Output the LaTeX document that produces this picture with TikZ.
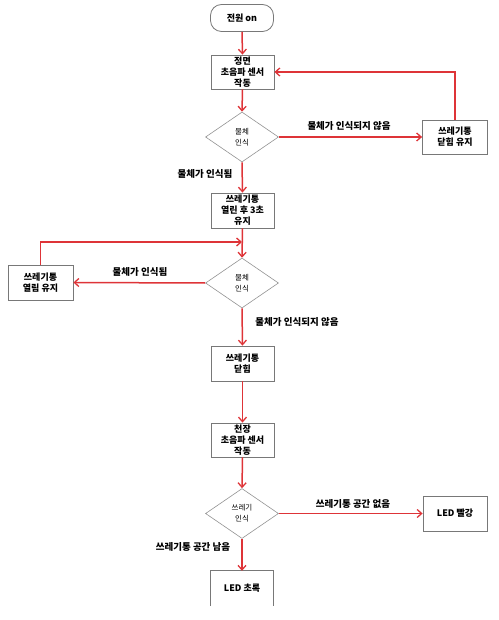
\documentclass[tikz,border=0pt]{standalone}
\usepackage{fontspec}
\setmainfont{Noto Sans CJK KR}
\usetikzlibrary{shapes.geometric,arrows.meta}
\definecolor{flowred}{RGB}{222,52,56}
\definecolor{boxgray}{RGB}{120,120,120}
\tikzset{
  x=1pt,y=-1pt,
  stepbox/.style={draw=boxgray,line width=0.8pt,fill=white,rectangle,align=center,inner sep=1pt,font=\fontsize{9}{11}\selectfont\bfseries},
  startbox/.style={stepbox,rounded corners=11pt},
  decide/.style={draw=boxgray!80,line width=0.6pt,fill=white,diamond,inner sep=0pt,minimum width=73pt,minimum height=50pt,align=center,font=\fontsize{7.5}{11}\selectfont},
  flow/.style={draw=flowred,line width=1.5pt,-{Straight Barb[length=4.5pt,width=8pt,line width=1.3pt]}},
  lbl/.style={font=\fontsize{9.5}{11}\selectfont\bfseries,inner sep=0pt}
}
\begin{document}
\begin{tikzpicture}
\useasboundingbox (0,0) rectangle (498,620);
\node[startbox,minimum width=63pt,minimum height=27pt] (start) at (242,18) {전원 on};
\node[stepbox,minimum width=63pt,minimum height=34pt] (b1) at (242.5,72) {정면\\초음파 센서\\작동};
\node[decide] (d1) at (242,137) {물체\\인식};
\node[stepbox,minimum width=65pt,minimum height=34pt] (r1) at (455,137) {쓰레기통\\닫힘 유지};
\node[stepbox,minimum width=63pt,minimum height=35pt] (b2) at (242.5,210.5) {쓰레기통\\열린 후 3초\\유지};
\node[stepbox,minimum width=65pt,minimum height=35pt] (l1) at (40.5,282.5) {쓰레기통\\열림 유지};
\node[decide] (d2) at (242,283) {물체\\인식};
\node[stepbox,minimum width=63pt,minimum height=35pt] (b3) at (242.5,363.5) {쓰레기통\\닫힘};
\node[stepbox,minimum width=63pt,minimum height=34pt] (b4) at (242.5,440) {천장\\초음파 센서\\작동};
\node[decide] (d3) at (242,513.5) {쓰레기\\인식};
\node[stepbox,minimum width=64pt,minimum height=35pt] (r2) at (455,513.5) {LED 빨강};
\node[inner sep=0pt,minimum width=62pt,minimum height=35pt,font=\fontsize{9}{11}\selectfont\bfseries] (g) at (242,588.5) {LED 초록};
\draw[draw=boxgray,line width=0.8pt] (g.south west) -- (g.north west) -- (g.north east) -- (g.south east);
\coordinate (m) at (242,242);
% labels
\node[lbl] (t1) at (349,126) {물체가 인식되지 않음};
\node[lbl] (t2) at (205,174) {물체가 인식됨};
\node[lbl] (t3) at (140,272) {물체가 인식됨};
\node[lbl] (t4) at (297,322) {물체가 인식되지 않음};
\node[lbl] (t5) at (353,504) {쓰레기통 공간 없음};
\node[lbl] (t6) at (193,547) {쓰레기통 공간 남음};
% connectors
\draw[flow] (start.south) -- (b1.north);
\draw[flow] (b1.south) -- (d1.north);
\draw[flow] (d1.east) -- (r1.west);
\draw[flow] (r1.north) |- (b1.east);
\draw[flow] (d1.south) -- (b2.north);
\draw[flow] (b2.south) -- (d2.north);
\draw[flow] (d2.west) -- (l1.east);
\draw[flow] (l1.north) |- (m);
\draw[flow] (d2.south) -- (b3.north);
\draw[flow] (b3.south) -- (b4.north);
\draw[flow] (b4.south) -- (d3.north);
\draw[flow] (d3.east) -- (r2.west);
\draw[flow] (d3.south) -- (g.north);
\end{tikzpicture}
\end{document}
